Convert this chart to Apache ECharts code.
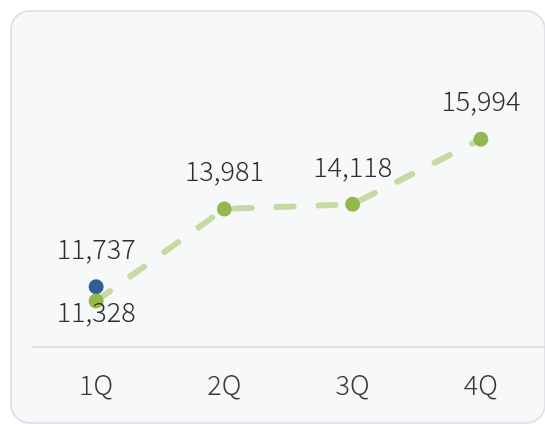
<!DOCTYPE html>
<html>
<head>
<meta charset="utf-8">
<script src="https://cdn.jsdelivr.net/npm/echarts@6/dist/echarts.min.js"></script>
<style>
  html, body { margin: 0; padding: 0; background: #fff; }
  #card {
    position: absolute; left: 10px; top: 10px;
    width: 532px; height: 410px;
    border: 2px solid #e1e3e8; border-radius: 20px;
    background: #f7f8fa;
  }
  #main { position: absolute; left: 0; top: 0; width: 545px; height: 424px; }
</style>
</head>
<body>
<div id="card"></div>
<div id="main"></div>
<script>
var quarters = ['1Q', '2Q', '3Q', '4Q'];
var greenValues = [11328, 13981, 14118, 15994];
var blueValues = [11737, null, null, null];

var FONT = '"Noto Sans CJK JP", "Noto Sans", sans-serif';

var chartDom = document.getElementById('main');
var myChart = echarts.init(chartDom);

function fmt(p) { return p.value.toLocaleString('en-US'); }

var labelStyle = {
  show: true,
  position: 'top',
  distance: 17,
  fontSize: 27,
  fontWeight: 300,
  fontFamily: FONT,
  color: '#2e2e2e',
  formatter: fmt
};

// first green label sits under its point
var greenData = greenValues.map(function (v, i) {
  if (i === 0) {
    return { value: v, label: { position: 'bottom', distance: -10 } };
  }
  return v;
});

var option = {
  animation: false,
  grid: { left: 32, right: -1, top: 139, bottom: 77 },
  xAxis: {
    type: 'category',
    data: quarters,
    axisLine: { lineStyle: { color: '#d9dbe0', width: 1.5 } },
    axisTick: { show: false },
    axisLabel: {
      margin: 24,
      fontSize: 27,
      fontWeight: 300,
      fontFamily: FONT,
      color: '#383838'
    }
  },
  yAxis: {
    type: 'value',
    min: 10000,
    max: 16000,
    show: false,
    splitLine: { show: false }
  },
  series: [
    {
      type: 'line',
      data: greenData,
      symbol: 'circle',
      symbolSize: 15,
      lineStyle: {
        color: '#c6dba1',
        width: 6,
        type: [17, 25],
        cap: 'round'
      },
      itemStyle: { color: '#93b84e' },
      label: labelStyle,
      z: 2
    },
    {
      type: 'line',
      data: blueValues,
      symbol: 'circle',
      symbolSize: 15,
      lineStyle: { width: 0 },
      itemStyle: { color: '#2f5e95' },
      label: labelStyle,
      z: 1
    }
  ]
};

myChart.setOption(option);
</script>
</body>
</html>
